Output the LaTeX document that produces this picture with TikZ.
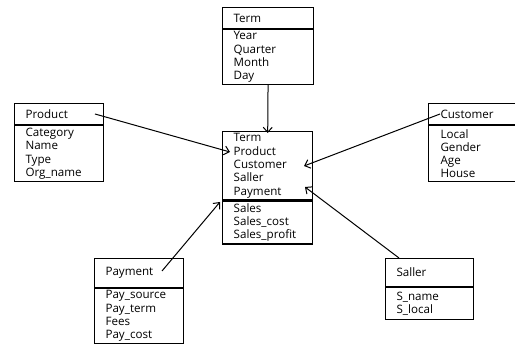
\documentclass[tikz,border=0pt]{standalone}
\usepackage{fontspec}
\setmainfont{Open Sans}
\usetikzlibrary{arrows.meta}
\newcommand{\entfont}{\fontsize{11.6}{13.3}\selectfont}
\begin{document}
\begin{tikzpicture}[x=1pt,y=-1pt,
  ent/.style={draw, line width=1.1pt, rectangle, anchor=north west,
    inner xsep=11pt, inner ysep=0pt, align=left, font=\entfont},
  link/.style={line width=1pt, -{Straight Barb[length=5pt,width=9pt,line width=1pt]}}]
\useasboundingbox (0,0) rectangle (515,344);

% Term dimension
\node[ent, text width=69pt, minimum height=21pt] (termH) at (222,7) {Term};
\node[ent, text width=69pt, minimum height=55pt] (termB) at (termH.south west) {Year\\Quarter\\Month\\Day};

% fact table
\node[ent, line width=1.4pt, text width=68pt, minimum height=68pt] (factA) at (222,131) {Term\\Product\\Customer\\Saller\\Payment};
\node[ent, line width=1.4pt, text width=68pt, minimum height=43pt] (factB) at (factA.south west) {Sales\\Sales\_cost\\Sales\_profit};

% Product dimension
\node[ent, text width=67pt, minimum height=21pt] (prodH) at (14,103) {Product};
\node[ent, text width=67pt, minimum height=56pt] (prodB) at (prodH.south west) {Category\\Name\\Type\\Org\_name};

% Customer dimension
\node[ent, inner xsep=12pt, text width=68pt, minimum height=21pt] (custH) at (428,103) {Customer};
\node[ent, inner xsep=12pt, text width=68pt, minimum height=56pt] (custB) at (custH.south west) {Local\\Gender\\Age\\House};

% Payment dimension
\node[ent, text width=67pt, minimum height=29pt] (payH) at (94,258) {Payment};
\node[ent, text width=67pt, minimum height=55pt] (payB) at (payH.south west) {Pay\_source\\Pay\_term\\Fees\\Pay\_cost};

% Saller dimension
\node[ent, text width=66pt, minimum height=28pt] (sallH) at (385,258) {Saller};
\node[ent, text width=66pt, minimum height=32pt] (sallB) at (sallH.south west) {S\_name\\S\_local};

% connector end points
\coordinate (prodOut) at (95,114);
\coordinate (custOut) at (440,114);
\coordinate (payOut) at (162,271);
\coordinate (sallOut) at (399,258);
\coordinate (inProd) at (230,152);
\coordinate (inCust) at (304,166);
\coordinate (inSall) at (305,187);
\coordinate (inPay) at (220,202);

% references into the fact table
\draw[link] (termB.south) -- ([yshift=-2pt]factA.north);
\draw[link] (prodOut) -- (inProd);
\draw[link] (custOut) -- (inCust);
\draw[link] (sallOut) -- (inSall);
\draw[link] (payOut) -- (inPay);
\end{tikzpicture}
\end{document}
